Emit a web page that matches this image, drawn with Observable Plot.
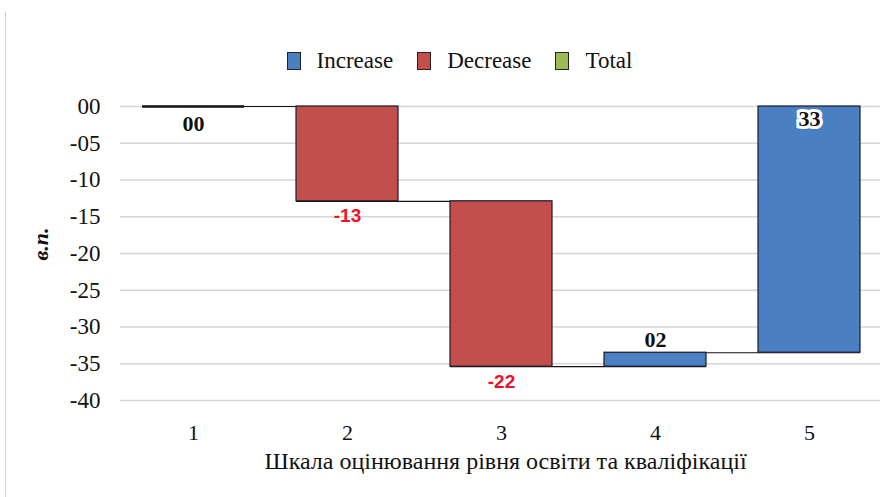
<!DOCTYPE html>
<html>
<head>
<meta charset="utf-8">
<script src="https://cdn.jsdelivr.net/npm/d3@7"></script>
<script src="https://cdn.jsdelivr.net/npm/@observablehq/plot@0.6"></script>
<style>
  body { margin: 0; background: #fff; }
  #wrap { position: relative; width: 889px; height: 497px; overflow: hidden; font-family: 'Liberation Serif', serif; }
  #frame { position: absolute; left: 5px; top: 12px; width: 1px; height: 485px; background: #cfcfcf; }
  #legend { height: 80px; box-sizing: border-box; padding-top: 41px; padding-left: 30px; display: flex; justify-content: center; align-items: center; font-family: 'Liberation Serif', serif; font-size: 23px; line-height: 26px; color: #111; }
  .item { display: flex; align-items: center; margin: 0 12px; }
  .sw { width: 14px; height: 18px; border: 1px solid #222; margin-right: 16px; box-sizing: border-box; }
  svg { display: block; }
</style>
</head>
<body>
<div id="wrap">
  <div id="frame"></div>
  <div id="legend"></div>
  <div id="chart"></div>
</div>
<script>
// ---- data ----
const categories = ["1", "2", "3", "4", "5"];
const deltas = [0, -12.9, -22.5, 1.9, 33.5];
const types = ["Increase", "Decrease", "Decrease", "Increase", "Increase"];
const labels = ["00", "-13", "-22", "02", "33"];
const yTicks = [0, -5, -10, -15, -20, -25, -30, -35, -40];
const legendNames = ["Increase", "Decrease", "Total"];
const legendColors = ["#4a7fc1", "#c24f4c", "#9bbb59"];
const xTitle = "Шкала оцінювання рівня освіти та кваліфікації";
const yTitle = "в.п.";

// ---- build rows ----
const cum = d3.cumsum(deltas);
const rows = categories.map((c, i) => ({
  cat: c,
  y1: i === 0 ? 0 : cum[i - 1],
  y2: cum[i],
  type: types[i],
  label: labels[i],
  i
}));
const links = rows.slice(0, -1).map((r, i) => ({ a: r.cat, b: rows[i + 1].cat, y: r.y2 }));
const tickFormat = d => (d < 0 ? "-" : "") + String(Math.abs(d)).padStart(2, "0");

// legend
const lg = document.getElementById("legend");
legendNames.forEach((n, i) => {
  const it = document.createElement("div"); it.className = "item";
  const sw = document.createElement("div"); sw.className = "sw"; sw.style.background = legendColors[i];
  const t = document.createElement("span"); t.textContent = n;
  it.appendChild(sw); it.appendChild(t); lg.appendChild(it);
});

const nonZero = rows.filter(r => r.y1 !== r.y2);
const zero = rows.filter(r => r.y1 === r.y2);
const serif = "'Liberation Serif', serif";
const sans = "'Liberation Sans', sans-serif";

const chart = Plot.plot({
  width: 889,
  height: 417,
  marginTop: 26,
  marginBottom: 97,
  marginLeft: 116,
  marginRight: 3,
  style: { fontFamily: serif, fontSize: "22px", color: "#111", background: "transparent", overflow: "visible" },
  x: { domain: categories, paddingInner: 0.34, paddingOuter: 0.17, label: null },
  y: { domain: [-40, 0], label: null },
  color: { domain: legendNames, range: legendColors },
  marks: [
    Plot.ruleY(yTicks, { stroke: "#d6d6d6", strokeWidth: 1.6, insetLeft: 4, insetRight: 6 }),
    Plot.axisY({ ticks: yTicks, tickSize: 0, tickPadding: 16, tickFormat, label: null, fontSize: 23, fontFamily: serif }),
    Plot.axisX({ tickSize: 0, tickPadding: 24, label: null, fontSize: 22, fontFamily: serif }),
    Plot.ruleY(links, { x1: "a", x2: "b", y: "y", stroke: "#111", strokeWidth: 1.2 }),
    Plot.barY(nonZero, { x: "cat", y1: "y1", y2: "y2", fill: "type", stroke: "#1c1c2a", strokeWidth: 1.2 }),
    Plot.ruleY(zero, { x1: "cat", x2: "cat", y: "y2", stroke: "#111", strokeWidth: 2.5 }),
    // labels
    Plot.text(rows.filter(r => r.i === 0), { x: "cat", y: "y2", text: "label", dy: 17, fontWeight: "bold", fontSize: 22, fill: "#111", fontFamily: serif }),
    Plot.text(rows.filter(r => r.type === "Decrease"), { x: "cat", y: "y2", text: "label", dy: 15, fontWeight: "bold", fontSize: 19, fill: "#f0102a", fontFamily: sans }),
    Plot.text(rows.filter(r => r.i === 3), { x: "cat", y: "y2", text: "label", dy: -13, fontWeight: "bold", fontSize: 22, fill: "#111", fontFamily: serif }),
    Plot.text(rows.filter(r => r.i === 4), { x: "cat", y: "y2", text: "label", dy: 12, fontWeight: "bold", fontSize: 22, fill: "#111", stroke: "white", strokeWidth: 6, strokeLinejoin: "miter", fontFamily: serif }),
    // titles
    Plot.text([yTitle], { frameAnchor: "left", dx: -76, dy: 7, rotate: -90, fontWeight: "bold", fontStyle: "italic", fontSize: 22, fill: "#111", fontFamily: serif }),
    Plot.text([xTitle], { frameAnchor: "bottom", dx: 4, dy: 68, fontSize: 24, fill: "#111", fontFamily: serif })
  ]
});
document.getElementById("chart").appendChild(chart);
</script>
</body>
</html>
